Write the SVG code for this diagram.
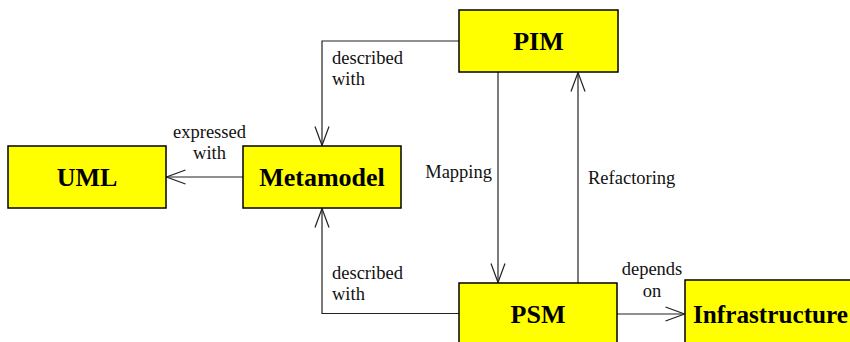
<svg xmlns="http://www.w3.org/2000/svg" width="850" height="342" viewBox="0 0 850 342">
<defs>
<style>
.box{fill:#ffff00;stroke:#000;stroke-width:1.5}
.name{font-family:"Liberation Serif",serif;font-weight:bold;font-size:26px;text-anchor:middle;fill:#000}
.lbl{font-family:"Liberation Serif",serif;font-size:18.5px;fill:#111}
.c{fill:none;stroke:#222;stroke-width:1.2}
</style>
<marker id="arr" markerUnits="userSpaceOnUse" markerWidth="24" markerHeight="18" viewBox="-21 -9 24 18" refX="0" refY="0" orient="auto">
<path d="M-19,-7 L0,0 L-19,7" fill="none" stroke="#222" stroke-width="1.2"/>
</marker>
</defs>
<rect width="850" height="342" fill="#fff"/>
<g id="connectors">
<path class="c" d="M459,41 H322 V145.5" marker-end="url(#arr)"/>
<path class="c" d="M243,177 H166.5" marker-end="url(#arr)"/>
<path class="c" d="M459,313.5 H322 V208.5" marker-end="url(#arr)"/>
<path class="c" d="M498,72 V282.5" marker-end="url(#arr)"/>
<path class="c" d="M578,283 V72.5" marker-end="url(#arr)"/>
<path class="c" d="M617,314 H684.5" marker-end="url(#arr)"/>
<text class="lbl" x="332" y="64">described</text>
<text class="lbl" x="332" y="85">with</text>
<text class="lbl" x="209.5" y="137.5" text-anchor="middle">expressed</text>
<text class="lbl" x="209.5" y="159" text-anchor="middle">with</text>
<text class="lbl" x="332" y="278.5">described</text>
<text class="lbl" x="332" y="299.5">with</text>
<text class="lbl" x="492" y="178" text-anchor="end">Mapping</text>
<text class="lbl" x="588" y="184">Refactoring</text>
<text class="lbl" x="652" y="275" text-anchor="middle">depends</text>
<text class="lbl" x="652" y="297" text-anchor="middle">on</text>
</g>
<g id="pim">
<rect class="box" x="459" y="10" width="159" height="62"/>
<text class="name" x="538.5" y="49.5">PIM</text>
</g>
<g id="uml">
<rect class="box" x="8" y="146" width="158" height="62"/>
<text class="name" x="87" y="186">UML</text>
</g>
<g id="metamodel">
<rect class="box" x="243" y="146" width="158" height="62"/>
<text class="name" x="322" y="186">Metamodel</text>
</g>
<g id="psm">
<rect class="box" x="459" y="283" width="158" height="64"/>
<text class="name" x="538" y="322.7">PSM</text>
</g>
<g id="infrastructure">
<rect class="box" x="685" y="280" width="172" height="68"/>
<text class="name" x="770.5" y="322.7" textLength="155" lengthAdjust="spacingAndGlyphs">Infrastructure</text>
</g>
</svg>
